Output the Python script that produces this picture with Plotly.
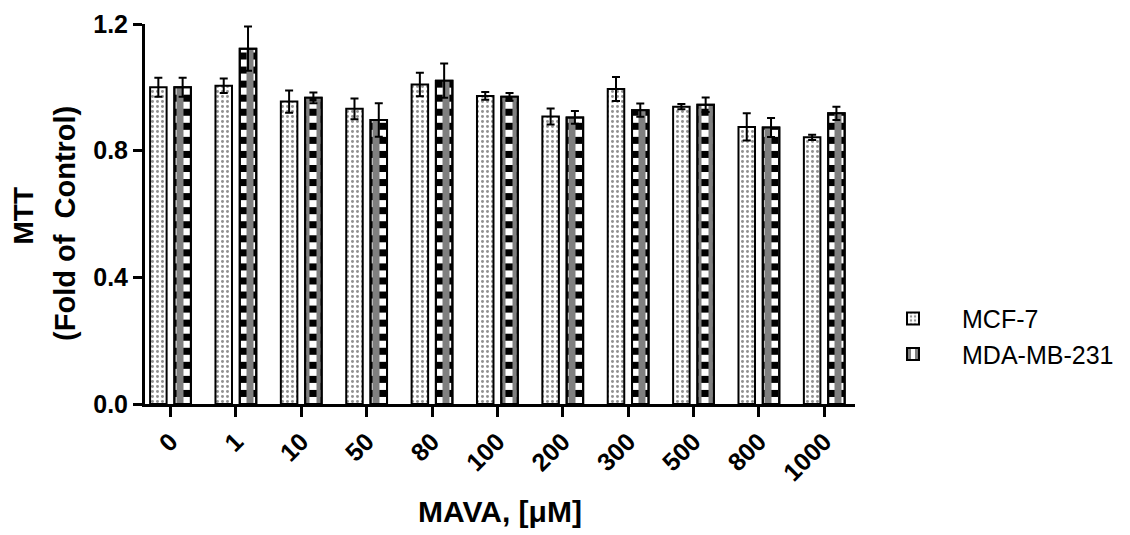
import math
import plotly.graph_objects as go

# ---- data ----
categories = ["0", "1", "10", "50", "80", "100", "200", "300", "500", "800", "1000"]
mcf7 = [1.000, 1.005, 0.955, 0.932, 1.009, 0.973, 0.908, 0.995, 0.939, 0.875, 0.842]
mcf7_err = [0.030, 0.023, 0.035, 0.033, 0.037, 0.012, 0.025, 0.038, 0.008, 0.043, 0.008]
mda = [1.000, 1.122, 0.967, 0.897, 1.021, 0.970, 0.905, 0.928, 0.945, 0.873, 0.918]
mda_err = [0.030, 0.070, 0.017, 0.053, 0.054, 0.012, 0.020, 0.021, 0.023, 0.030, 0.021]
y_ticks = [0.0, 0.4, 0.8, 1.2]
y_ticktext = ["0.0", "0.4", "0.8", "1.2"]

FONT = "Liberation Sans, Arial, sans-serif"
CHECK = 0.0222  # checkerboard row height (data units)
PAT = 14        # checkerboard pattern period (px)

fig = go.Figure()

# MCF-7 dotted bars
fig.add_trace(go.Bar(
    x=categories, y=mcf7, name="MCF-7", offsetgroup="a",
    marker=dict(color="white", line=dict(color="black", width=2),
                pattern=dict(shape=".", fgcolor="#222222", bgcolor="white",
                             size=5, solidity=0.28)),
    error_y=dict(type="data", array=mcf7_err, symmetric=True,
                 color="black", thickness=2, width=4),
))

# MDA-MB-231 checkerboard: base vertical stripes
fig.add_trace(go.Bar(
    x=categories, y=mda, name="MDA-MB-231", offsetgroup="b",
    marker=dict(color="white", line=dict(color="black", width=2),
                pattern=dict(shape="|", fgcolor="black", bgcolor="white",
                             size=PAT, solidity=0.5)),
))

# inverted stripes on alternating rows -> checkerboard
row_x, row_base, row_h = [], [], []
for c, v in zip(categories, mda):
    n = math.ceil(v / CHECK)
    for k in range(1, n, 2):
        b = k * CHECK
        row_x.append(c)
        row_base.append(b)
        row_h.append(min(CHECK, v - b))
fig.add_trace(go.Bar(
    x=row_x, y=row_h, base=row_base, offsetgroup="b", showlegend=False,
    hoverinfo="skip",
    marker=dict(color="black", line=dict(width=0),
                pattern=dict(shape="|", fgcolor="white", bgcolor="black",
                             size=PAT, solidity=0.5)),
))

# outline + error bars for MDA
fig.add_trace(go.Bar(
    x=categories, y=mda, offsetgroup="b", showlegend=False,
    marker=dict(color="rgba(0,0,0,0)", line=dict(color="black", width=2)),
    error_y=dict(type="data", array=mda_err, symmetric=True,
                 color="black", thickness=2, width=4),
))

fig.update_layout(
    width=1122, height=527,
    margin=dict(l=137, r=275, t=16, b=131, autoexpand=False),
    paper_bgcolor="white", plot_bgcolor="white",
    barmode="group", bargap=0.257, bargroupgap=0.32,
    font=dict(family=FONT, color="black"),
    showlegend=True,
    legend=dict(x=1.0127, y=0.285, xanchor="left", yanchor="top",
                font=dict(family=FONT, size=25, color="black"),
                itemwidth=88, tracegroupgap=0, bgcolor="rgba(0,0,0,0)"),
    xaxis=dict(type="category", range=[-0.39, 10.47], automargin=False,
               showline=True, linecolor="black", linewidth=3,
               ticks="outside", ticklen=10, tickwidth=3, tickcolor="black",
               tickangle=-45, showgrid=False, zeroline=False,
               tickfont=dict(family=FONT, size=25, weight="bold", color="black")),
    yaxis=dict(range=[0, 1.2], tickvals=y_ticks, ticktext=y_ticktext,
               automargin=False,
               showline=True, linecolor="black", linewidth=3,
               ticks="outside", ticklen=9, tickwidth=3, tickcolor="black",
               showgrid=False, zeroline=False,
               tickfont=dict(family=FONT, size=25, weight="bold", color="black")),
    annotations=[
        dict(text="<b>MAVA, [μM]</b>", xref="paper", yref="paper",
             x=0.5, y=-0.284, xanchor="center", yanchor="middle",
             showarrow=False, font=dict(family=FONT, size=30, color="black")),
        dict(text="<b>MTT</b>", xref="paper", yref="paper",
             x=-0.171, y=0.495, xanchor="center", yanchor="middle",
             textangle=-90, showarrow=False,
             font=dict(family=FONT, size=28, color="black")),
        dict(text="<b>(Fold of \u00a0Control)</b>", xref="paper", yref="paper",
             x=-0.113, y=0.476, xanchor="center", yanchor="middle",
             textangle=-90, showarrow=False,
             font=dict(family=FONT, size=29, color="black")),
    ],
)

fig.write_html("out.html")
